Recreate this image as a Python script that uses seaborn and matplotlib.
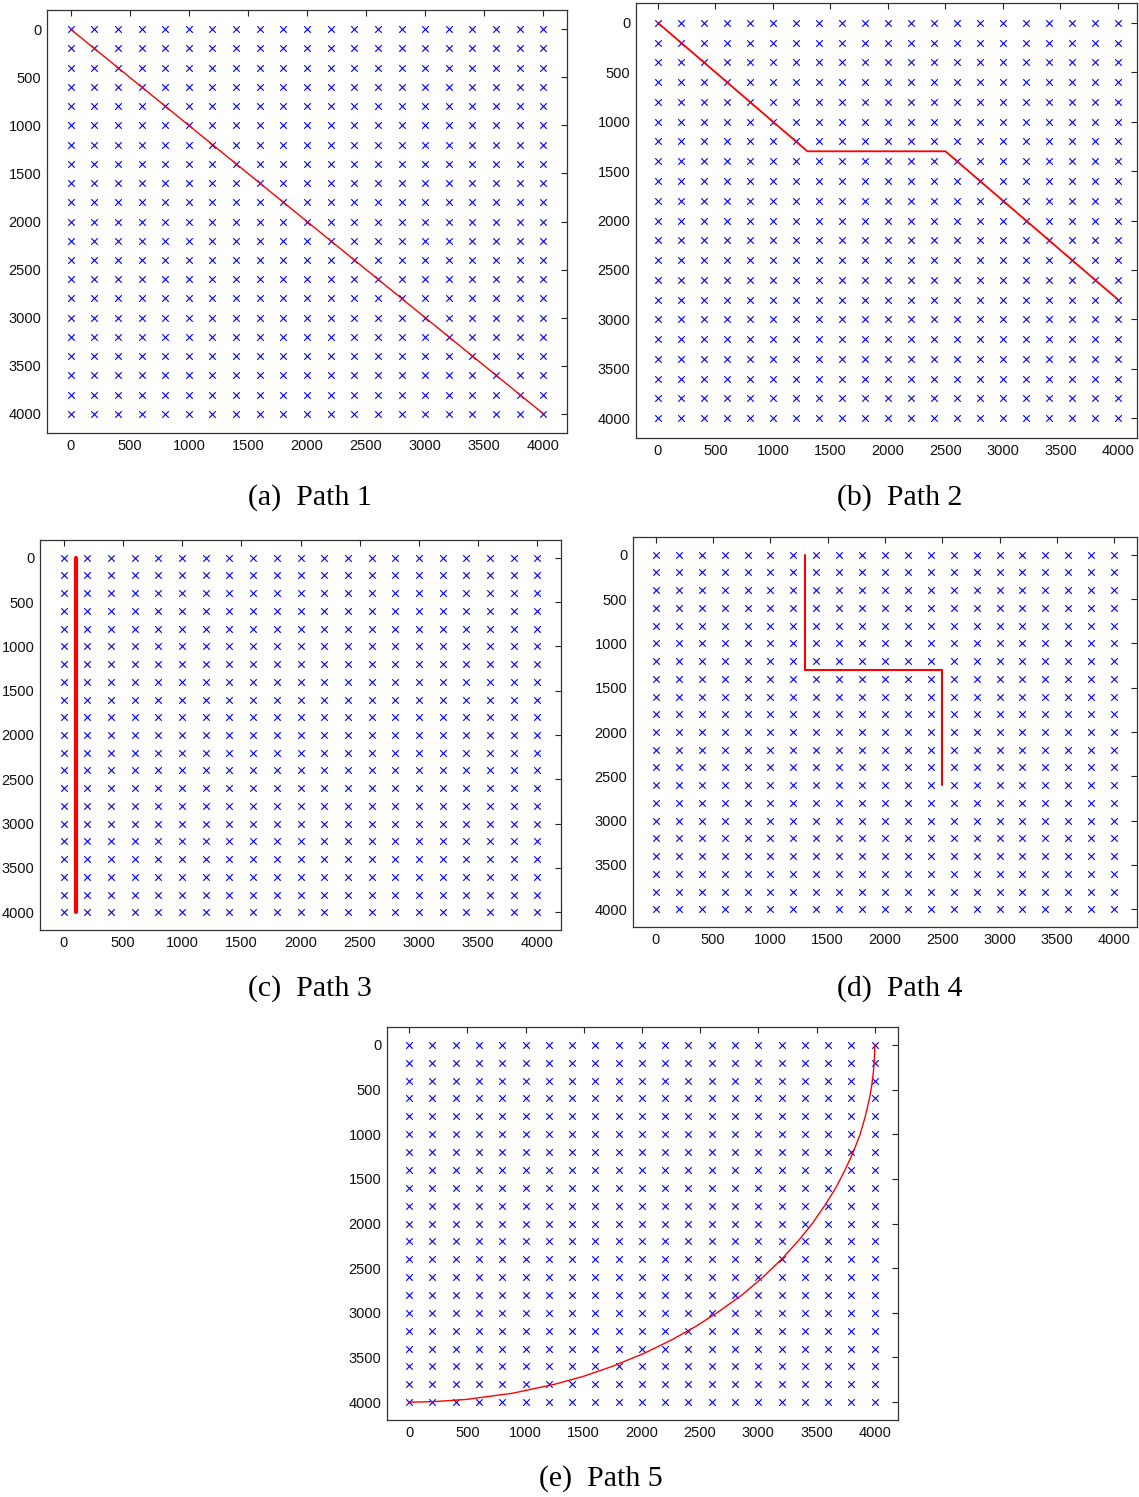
import numpy as np
import pandas as pd
import matplotlib
matplotlib.use("Agg")
import matplotlib.pyplot as plt
import seaborn as sns

# node grid coordinates (every 200 units)
grid_vals = [0, 200, 400, 600, 800, 1000, 1200, 1400, 1600, 1800, 2000,
             2200, 2400, 2600, 2800, 3000, 3200, 3400, 3600, 3800, 4000]
tick_vals = [0, 500, 1000, 1500, 2000, 2500, 3000, 3500, 4000]

# paths
path1_x = [0, 4000]
path1_y = [0, 4000]
path2_x = [0, 1300, 2500, 4000]
path2_y = [0, 1300, 1300, 2800]
path3_x = [100, 100]
path3_y = [0, 4000]
path4_x = [1300, 1300, 2500, 2500]
path4_y = [0, 1300, 1300, 2600]
path5_x = [4000, 3999, 3995, 3989, 3975, 3955, 3919, 3875, 3816, 3745, 3666,
           3570, 3464, 3340, 3200, 3040, 2860, 2645, 2465, 2260, 2025, 1745,
           1500, 1250, 890, 490, 200, 0]
path5_y = [0, 100, 200, 300, 450, 600, 800, 1000, 1200, 1400, 1600,
           1800, 2000, 2200, 2400, 2600, 2800, 3000, 3150, 3300, 3450, 3600,
           3710, 3800, 3900, 3970, 3995, 4000]

captions = ["(a)  Path 1", "(b)  Path 2", "(c)  Path 3", "(d)  Path 4", "(e)  Path 5"]

sns.set_theme(style="white")
plt.rcParams['font.family'] = ['Liberation Sans', 'DejaVu Sans']

gx, gy = np.meshgrid(grid_vals, grid_vals)
nodes = pd.DataFrame({"x": gx.ravel(), "y": gy.ravel()})

paths = [
    (path1_x, path1_y, 1.0),
    (path2_x, path2_y, 1.3),
    (path3_x, path3_y, 3.0),
    (path4_x, path4_y, 1.5),
    (path5_x, path5_y, 1.0),
]

# axes boxes in pixels: left, top, right, bottom
boxes = [(47, 10, 567, 433), (636, 3, 1137, 438), (40, 540, 561, 930),
         (633, 537, 1137, 927), (387, 1027, 898, 1420)]
xlims = [(-200, 4200), (-190, 4165), (-200, 4200), (-200, 4200), (-190, 4200)]
cap_pos = [(310, 498), (900, 498), (310, 989), (900, 989), (601, 1479)]

W, H = 1139, 1497
fig = plt.figure(figsize=(W / 100, H / 100), dpi=100)

for i, (px, py, lw) in enumerate(paths):
    l, t, r, b = boxes[i]
    ax = fig.add_axes([l / W, 1 - b / H, (r - l) / W, (b - t) / H])
    sns.scatterplot(data=nodes, x="x", y="y", marker="x", color="blue",
                    s=22, linewidth=0.8, ax=ax, zorder=2)
    df = pd.DataFrame({"x": px, "y": py})
    sns.lineplot(data=df, x="x", y="y", sort=False, estimator=None,
                 color="red", linewidth=lw, ax=ax, zorder=3)
    ax.set_xlim(*xlims[i])
    ax.set_ylim(4200, -200)
    ax.set_xticks(tick_vals)
    ax.set_yticks(tick_vals)
    ax.set_xlabel("")
    ax.set_ylabel("")
    ax.tick_params(direction="in", length=4, width=0.8, color="#222222",
                   top=True, right=True, labelsize=10.5, pad=4,
                   labelcolor="#111111")
    for sp in ax.spines.values():
        sp.set_color("#333333")
        sp.set_linewidth(0.9)
    cx, cy = cap_pos[i]
    fig.text(cx / W, 1 - cy / H, captions[i], ha="center", va="center",
             fontsize=21.5, color="black",
             family=["Liberation Serif", "DejaVu Serif"])

fig.savefig("out.png", dpi=100)
